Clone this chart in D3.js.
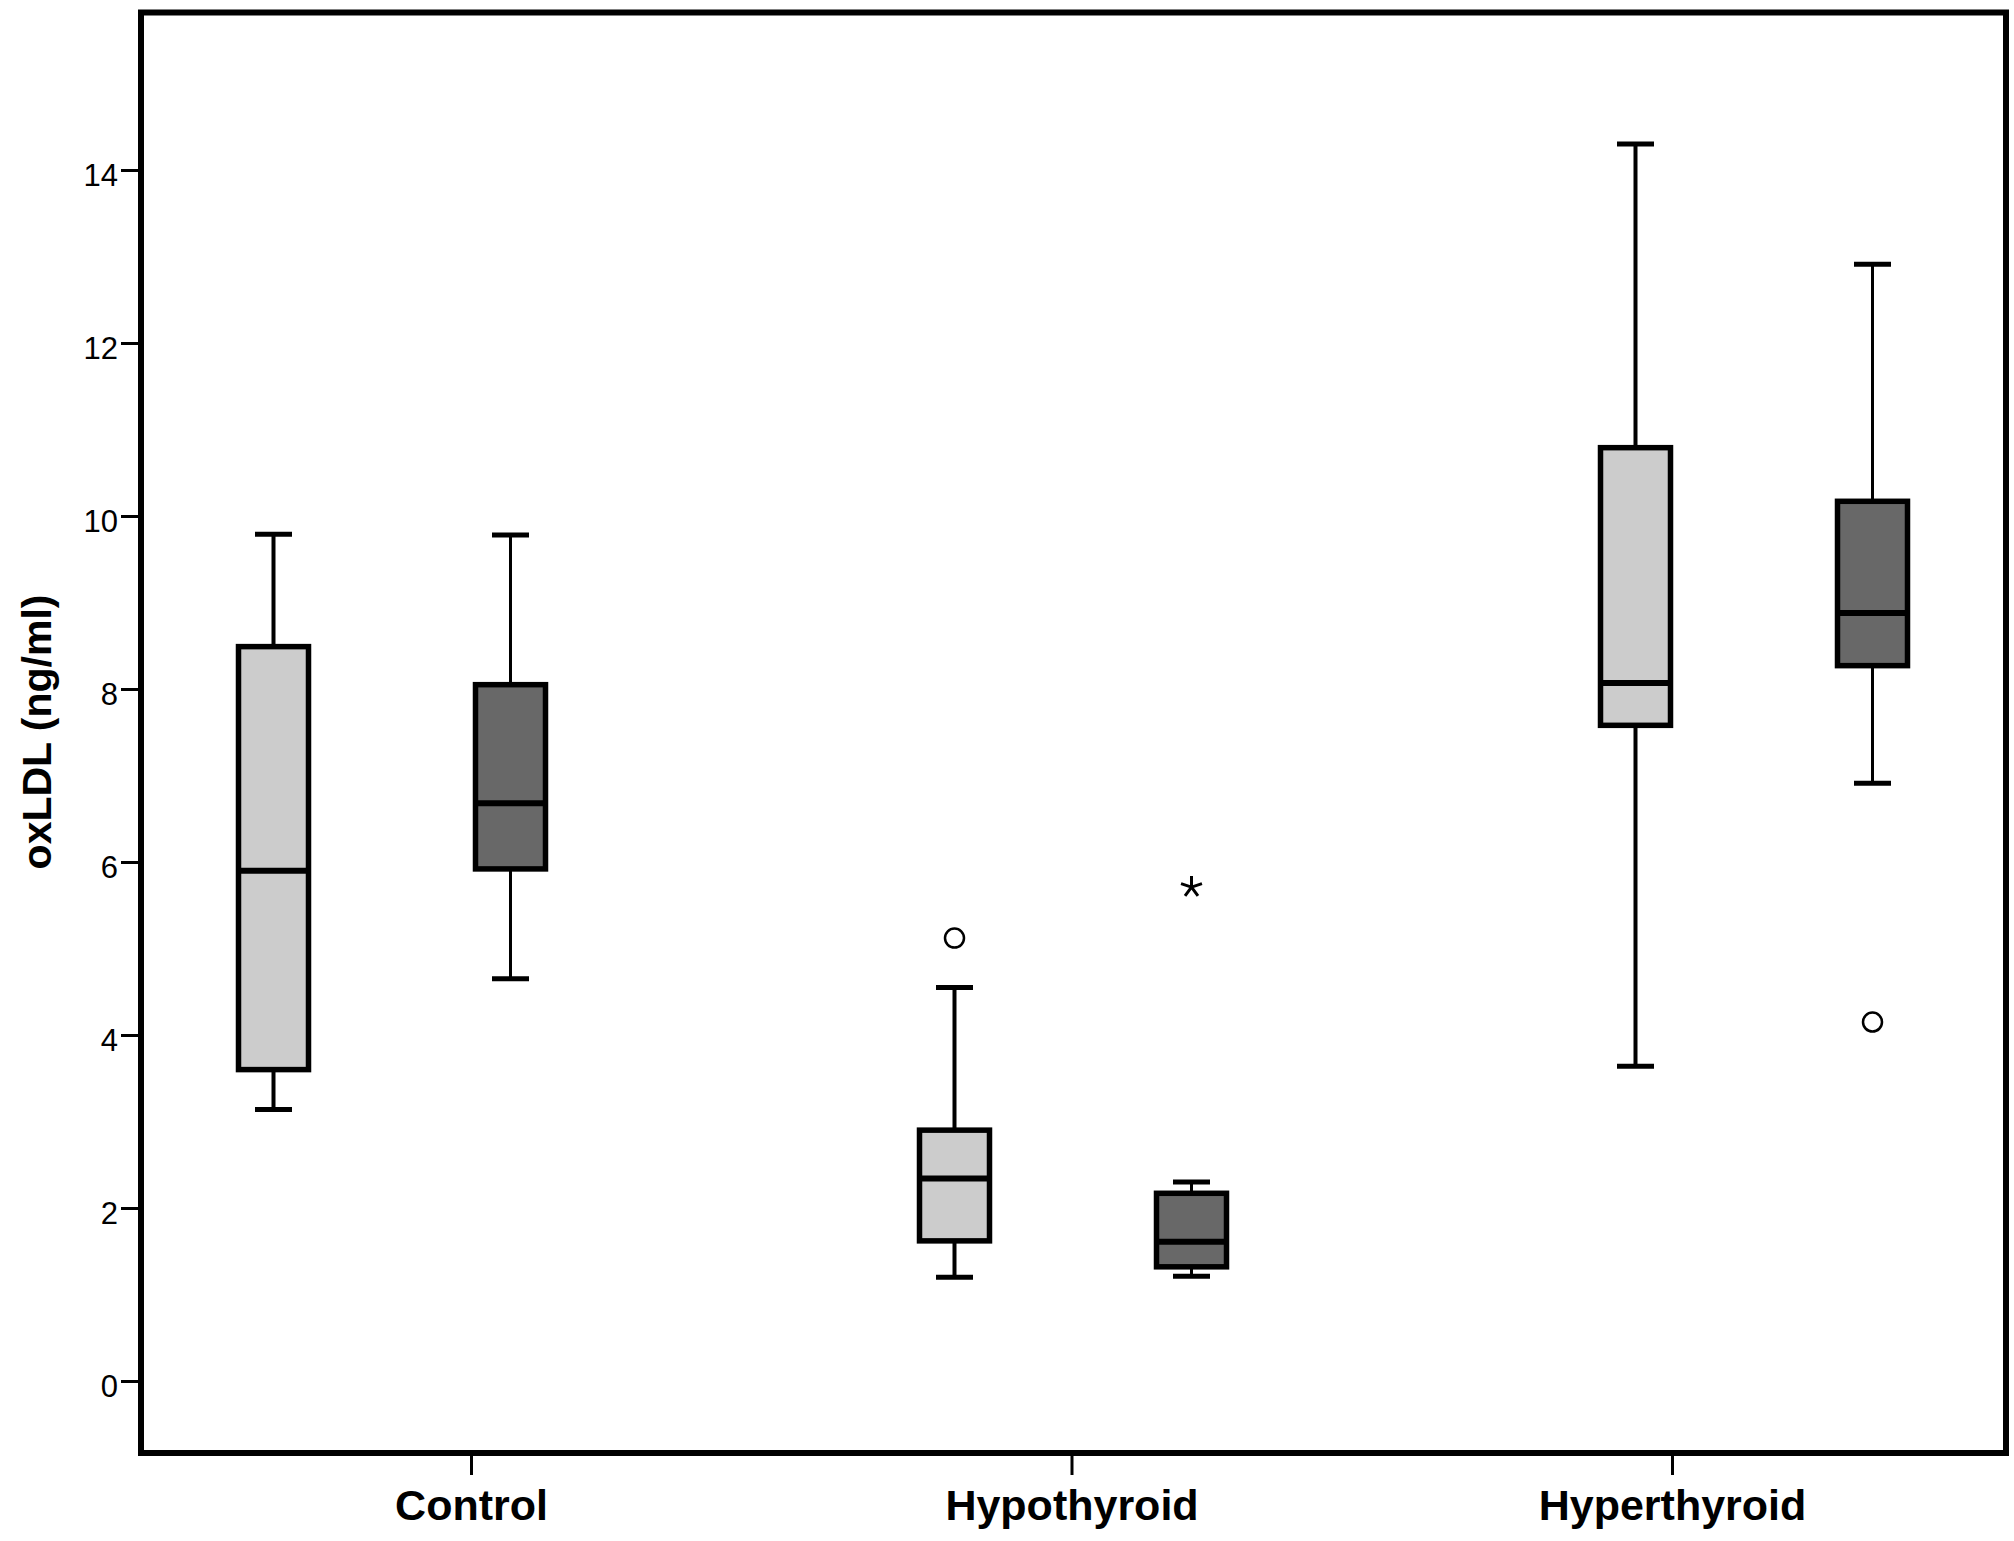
<!DOCTYPE html>
<html>
<head>
<meta charset="utf-8">
<script src="https://cdn.jsdelivr.net/npm/d3@7"></script>
<style>
  body { margin: 0; background: #fff; }
  svg { display: block; }
  text { font-family: "Liberation Sans", Arial, sans-serif; fill: #000; }
</style>
</head>
<body>
<svg id="chart" width="2014" height="1541"></svg>
<script>
// categories on the x axis
var categories = ["Control", "Hypothyroid", "Hyperthyroid"];
// two sub-groups per category (light box, dark box)
var groups = ["light", "dark"];
// box stats per category: [whisker low, Q1, median, Q3, whisker high]
var lightStats = [
  [3.14, 3.60, 5.90, 8.49, 9.79],
  [1.20, 1.62, 2.34, 2.90, 4.55],
  [3.64, 7.58, 8.07, 10.79, 14.30]
];
var darkStats = [
  [4.65, 5.92, 6.68, 8.05, 9.78],
  [1.21, 1.32, 1.61, 2.17, 2.30],
  [6.91, 8.27, 8.88, 10.17, 12.91]
];
// outliers (o) and extremes (*)
var outlierCats = ["Hypothyroid", "Hypothyroid", "Hyperthyroid"];
var outlierGroups = ["light", "dark", "dark"];
var outlierValues = [5.12, 5.71, 4.15];
var outlierKinds = ["circle", "star", "circle"];
var yTicks = [0, 2, 4, 6, 8, 10, 12, 14];

var fills = { light: "#cccccc", dark: "#686868" };
var whiskerWidth = { light: 4, dark: 3 };

var svg = d3.select("#chart");

var frame = { left: 141, top: 12.5, right: 2006, bottom: 1453 };

var y = d3.scaleLinear().domain([0, 14]).range([1381, 170]);

// the axis ticks in the original sit on a narrower spacing than the box clusters
var xTick = d3.scalePoint().domain(categories).range([471, 1672]);
var xCluster = d3.scalePoint().domain(categories).range([392, 1754]);
var xGroup = d3.scalePoint().domain(groups).range([-118.5, 118.5]);

var boxW = 70, capW = 37;

function cx(cat, g) { return xCluster(cat) + xGroup(g); }

// build box table
var boxes = [];
categories.forEach(function(c, i) {
  boxes.push({ cat: c, group: "light", s: lightStats[i] });
  boxes.push({ cat: c, group: "dark", s: darkStats[i] });
});

// y axis
var yAxis = d3.axisLeft(y).tickValues(yTicks).tickSize(18).tickPadding(3).tickFormat(d3.format("d"));
var gy = svg.append("g")
    .attr("transform", "translate(" + (frame.left - 2) + ",0)")
    .call(yAxis);
gy.select(".domain").remove();
gy.selectAll(".tick line").attr("stroke", "#000").attr("stroke-width", 3);
gy.selectAll(".tick text")
    .attr("font-size", 31)
    .attr("fill", "#000")
    .attr("dy", "0.5em");

// x axis
var xAxis = d3.axisBottom(xTick).tickSize(20).tickPadding(14);
var gx = svg.append("g")
    .attr("transform", "translate(0," + (frame.bottom + 2) + ")")
    .call(xAxis);
gx.select(".domain").remove();
gx.selectAll(".tick line").attr("stroke", "#000").attr("stroke-width", 3);
gx.selectAll(".tick text")
    .attr("font-size", 43)
    .attr("font-weight", "bold")
    .attr("fill", "#000")
    .attr("dy", "0.71em");

// y label
svg.append("text")
    .attr("transform", "translate(51,732) rotate(-90)")
    .attr("text-anchor", "middle")
    .attr("font-size", 41)
    .attr("font-weight", "bold")
    .text("oxLDL (ng/ml)");

// whiskers
var wg = svg.append("g");
boxes.forEach(function(b) {
  var x0 = cx(b.cat, b.group), sw = whiskerWidth[b.group];
  wg.append("line")
      .attr("x1", x0).attr("x2", x0)
      .attr("y1", y(b.s[0])).attr("y2", y(b.s[4]))
      .attr("stroke", "#000").attr("stroke-width", sw);
  [b.s[0], b.s[4]].forEach(function(v) {
    wg.append("line")
        .attr("x1", x0 - capW / 2).attr("x2", x0 + capW / 2)
        .attr("y1", y(v)).attr("y2", y(v))
        .attr("stroke", "#000").attr("stroke-width", 5);
  });
});

// boxes
svg.append("g").selectAll("rect")
  .data(boxes)
  .join("rect")
    .attr("x", function(d) { return cx(d.cat, d.group) - boxW / 2; })
    .attr("y", function(d) { return y(d.s[3]); })
    .attr("width", boxW)
    .attr("height", function(d) { return y(d.s[1]) - y(d.s[3]); })
    .attr("fill", function(d) { return fills[d.group]; })
    .attr("stroke", "#000")
    .attr("stroke-width", 5.5);

// medians
svg.append("g").selectAll("line")
  .data(boxes)
  .join("line")
    .attr("x1", function(d) { return cx(d.cat, d.group) - boxW / 2; })
    .attr("x2", function(d) { return cx(d.cat, d.group) + boxW / 2; })
    .attr("y1", function(d) { return y(d.s[2]); })
    .attr("y2", function(d) { return y(d.s[2]); })
    .attr("stroke", "#000")
    .attr("stroke-width", 6);

// outliers
outlierValues.forEach(function(v, i) {
  var x0 = cx(outlierCats[i], outlierGroups[i]), y0 = y(v);
  if (outlierKinds[i] === "circle") {
    svg.append("circle")
        .attr("cx", x0).attr("cy", y0).attr("r", 9.5)
        .attr("fill", "none").attr("stroke", "#000").attr("stroke-width", 2.5);
  } else {
    // five-spoke asterisk
    var p = d3.path();
    for (var k = 0; k < 5; k++) {
      var a = -Math.PI / 2 + k * 2 * Math.PI / 5;
      p.moveTo(x0, y0);
      p.lineTo(x0 + 11 * Math.cos(a), y0 + 11 * Math.sin(a));
    }
    svg.append("path").attr("d", p.toString())
        .attr("stroke", "#000").attr("stroke-width", 3).attr("fill", "none");
  }
});

// plot frame
svg.append("rect")
    .attr("x", frame.left).attr("y", frame.top)
    .attr("width", frame.right - frame.left)
    .attr("height", frame.bottom - frame.top)
    .attr("fill", "none")
    .attr("stroke", "#000")
    .attr("stroke-width", 6);
</script>
</body>
</html>
